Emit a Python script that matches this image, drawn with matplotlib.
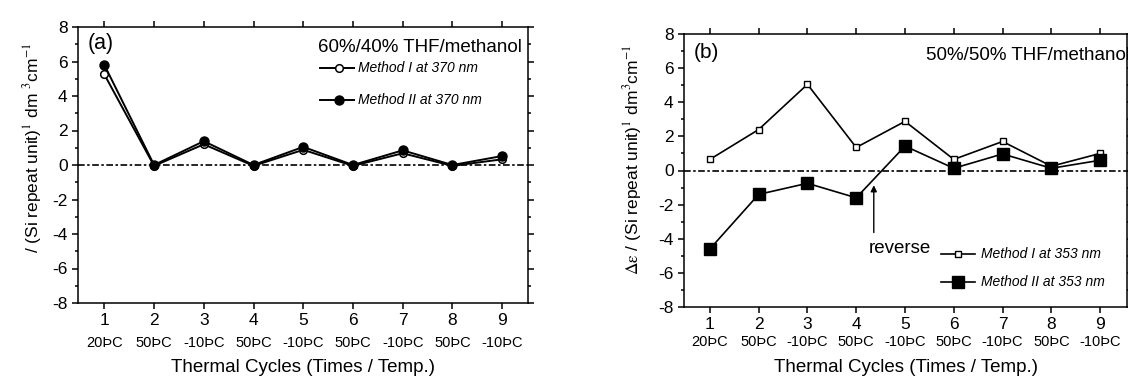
import matplotlib
matplotlib.use("Agg")
import matplotlib.pyplot as plt
from matplotlib.ticker import MultipleLocator

plt.rcParams['font.family'] = ['Liberation Sans', 'DejaVu Sans']
plt.rcParams['mathtext.fontset'] = 'stix'
plt.rcParams['axes.unicode_minus'] = False

# data
cycles = [1, 2, 3, 4, 5, 6, 7, 8, 9]
temps = ['20ÞC', '50ÞC', '-10ÞC', '50ÞC', '-10ÞC', '50ÞC', '-10ÞC', '50ÞC', '-10ÞC']

a_method1 = [5.25, -0.05, 1.2, -0.05, 0.88, -0.05, 0.68, -0.05, 0.33]
a_method2 = [5.8, 0.0, 1.38, 0.0, 1.05, 0.0, 0.85, 0.0, 0.52]

b_method1 = [0.65, 2.4, 5.05, 1.35, 2.88, 0.65, 1.7, 0.25, 1.0]
b_method2 = [-4.6, -1.4, -0.75, -1.6, 1.43, 0.13, 0.97, 0.13, 0.6]

fig = plt.figure(figsize=(11.28, 3.76), dpi=100)
ax_a = fig.add_axes([78 / 1128, 1 - 303 / 376, 450 / 1128, 276 / 376])
ax_b = fig.add_axes([684 / 1128, 1 - 307 / 376, 443 / 1128, 273 / 376])


def style_axes(ax, xmax, temp_off, label_off):
    ax.set_xlim(0.47, xmax)
    ax.set_ylim(-8, 8)
    ax.set_xticks(cycles)
    ax.set_xticklabels([str(c) for c in cycles], fontsize=12.5)
    ax.set_yticks(range(-8, 9, 2))
    ax.yaxis.set_minor_locator(MultipleLocator(1))
    ax.tick_params(which='both', direction='out', top=True, right=True, width=1.1)
    ax.tick_params(which='major', length=4.5, labelsize=12.5, pad=3)
    ax.tick_params(which='minor', length=2.5)
    for s in ax.spines.values():
        s.set_linewidth(1.1)
    ax.axhline(0, color='black', lw=1.2, ls=(0, (4, 1.5, 1.5, 1.5)), zorder=1)
    for c, t in zip(cycles, temps):
        ax.annotate(t, xy=(c, 0), xycoords=('data', 'axes fraction'),
                    xytext=(0, temp_off), textcoords='offset pixels',
                    ha='center', va='center', fontsize=10.5, annotation_clip=False)
    ax.annotate('Thermal Cycles (Times / Temp.)', xy=(0.5, 0), xycoords='axes fraction',
                xytext=(0, label_off), textcoords='offset pixels',
                ha='center', va='center', fontsize=13.5)


style_axes(ax_a, 9.52, -40, -64)
style_axes(ax_b, 9.55, -35, -60)

# panel (a)
ax_a.plot(cycles, a_method1, color='black', lw=1.4, marker='o', ms=5.5,
          mfc='white', mec='black', mew=1.1, zorder=3)
ax_a.plot(cycles, a_method2, color='black', lw=1.4, marker='o', ms=6.5,
          mfc='black', mec='black', zorder=4)
ax_a.set_ylabel('/ (Si repeat unit)$^{1}$ dm $^{3}$cm$^{-1}$', fontsize=12.5, labelpad=6)
ax_a.yaxis.label.set_y(0.563)
ax_a.text(0.022, 0.942, '(a)', transform=ax_a.transAxes, fontsize=15.5, va='center')
ax_a.text(0.533, 0.924, '60%/40% THF/methanol', transform=ax_a.transAxes,
          fontsize=13.5, va='center')
ax_a.plot([0.538, 0.613], [0.851, 0.851], transform=ax_a.transAxes, color='black', lw=1.4)
ax_a.plot([0.58], [0.851], transform=ax_a.transAxes, marker='o', ms=5.5,
          mfc='white', mec='black', mew=1.1)
ax_a.text(0.622, 0.851, 'Method I at 370 nm', transform=ax_a.transAxes,
          fontsize=10, style='italic', va='center')
ax_a.plot([0.538, 0.613], [0.736, 0.736], transform=ax_a.transAxes, color='black', lw=1.4)
ax_a.plot([0.58], [0.736], transform=ax_a.transAxes, marker='o', ms=6.5,
          mfc='black', mec='black')
ax_a.text(0.622, 0.736, 'Method II at 370 nm', transform=ax_a.transAxes,
          fontsize=10, style='italic', va='center')

# panel (b)
ax_b.plot(cycles, b_method1, color='black', lw=1.2, marker='s', ms=4.5,
          mfc='white', mec='black', mew=1.0, zorder=3)
ax_b.plot(cycles, b_method2, color='black', lw=1.2, marker='s', ms=8,
          mfc='black', mec='black', zorder=4)
ax_b.set_ylabel(r'$\mathrm{Δε}$ / (Si repeat unit)$^{1}$ dm$^{3}$cm$^{-1}$',
                fontsize=12.5, labelpad=10)
ax_b.yaxis.label.set_y(0.538)
ax_b.text(0.022, 0.934, '(b)', transform=ax_b.transAxes, fontsize=15, va='center')
ax_b.text(0.546, 0.923, '50%/50% THF/methanol', transform=ax_b.transAxes,
          fontsize=13.5, va='center', clip_on=False)
ax_b.annotate('', xy=(4.36, -0.7), xytext=(4.36, -3.8),
              arrowprops=dict(arrowstyle='-|>', color='black', lw=1.0, mutation_scale=9))
ax_b.text(4.25, -4.6, 'reverse', fontsize=13.5, va='center', ha='left')
ax_b.plot([0.580, 0.657], [0.194, 0.194], transform=ax_b.transAxes, color='black', lw=1.2)
ax_b.plot([0.618], [0.194], transform=ax_b.transAxes, marker='s', ms=4.5,
          mfc='white', mec='black', mew=1.0)
ax_b.text(0.670, 0.194, 'Method I at 353 nm', transform=ax_b.transAxes,
          fontsize=10, style='italic', va='center')
ax_b.plot([0.580, 0.657], [0.092, 0.092], transform=ax_b.transAxes, color='black', lw=1.2)
ax_b.plot([0.618], [0.092], transform=ax_b.transAxes, marker='s', ms=8,
          mfc='black', mec='black')
ax_b.text(0.670, 0.092, 'Method II at 353 nm', transform=ax_b.transAxes,
          fontsize=10, style='italic', va='center')

fig.savefig('out.png', dpi=100)
